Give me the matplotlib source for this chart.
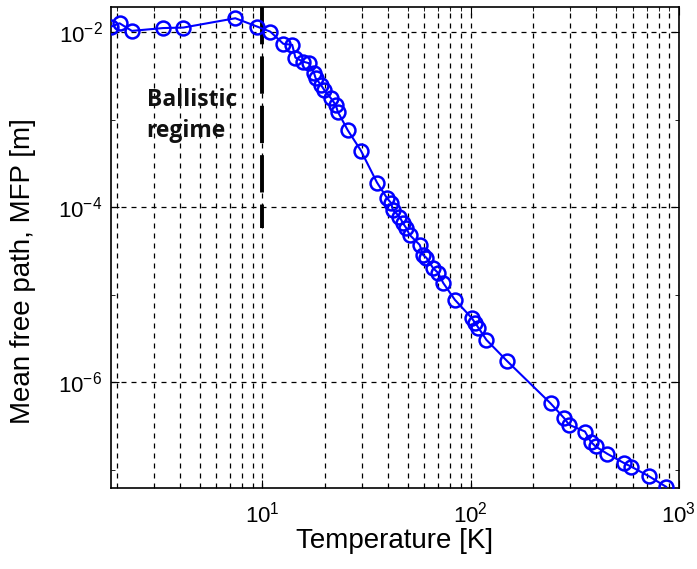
import numpy as np
import matplotlib
matplotlib.use("Agg")
import matplotlib.pyplot as plt
from matplotlib.ticker import LogLocator, NullFormatter, FixedLocator

plt.rcParams['font.family'] = ['Liberation Sans', 'DejaVu Sans']
plt.rcParams['mathtext.fontset'] = 'custom'
plt.rcParams['mathtext.rm'] = 'Liberation Sans'
plt.rcParams['mathtext.it'] = 'Liberation Sans'

# temperature [K] and mean free path [m]
temperature = [1.88, 2.06, 2.36, 3.33, 4.17, 7.41, 9.43, 10.9, 12.6, 13.9,
               14.4, 15.6, 16.7, 17.7, 18.0, 19.1, 19.8, 21.3, 22.5, 23.0,
               25.7, 29.7, 35.5, 39.7, 41.5, 42.3, 45.5, 47.3, 49.1, 50.9,
               56.9, 59.1, 61.3, 66.0, 69.8, 73.8, 84.0, 101, 105, 109,
               119, 150, 242, 281, 297, 354, 377, 398, 454, 547,
               589, 721, 868]
mfp = [1.165e-2, 1.27e-2, 1.04e-2, 1.12e-2, 1.135e-2, 1.45e-2, 1.165e-2, 1.02e-2, 7.4e-3, 7.2e-3,
       5.15e-3, 4.64e-3, 4.45e-3, 3.42e-3, 3.0e-3, 2.51e-3, 2.2e-3, 1.77e-3, 1.48e-3, 1.24e-3,
       7.6e-4, 4.46e-4, 1.92e-4, 1.27e-4, 1.12e-4, 9.36e-5, 7.85e-5, 6.6e-5, 5.78e-5, 4.85e-5,
       3.73e-5, 2.86e-5, 2.65e-5, 2.02e-5, 1.78e-5, 1.37e-5, 8.77e-6, 5.46e-6, 4.79e-6, 4.2e-6,
       3.06e-6, 1.74e-6, 5.75e-7, 3.9e-7, 3.27e-7, 2.74e-7, 2.1e-7, 1.85e-7, 1.52e-7, 1.19e-7,
       1.09e-7, 8.4e-8, 6.4e-8]

ballistic_T = 10
ballistic_range = [1.95e-2, 5.8e-5]

fig = plt.figure(figsize=(6.97, 5.69), dpi=100)
ax = fig.add_axes([0.159, 0.1424, 0.815, 0.8453])

ax.set_xscale('log')
ax.set_yscale('log')
ax.set_xlim(1.87, 1000)
ax.set_ylim(6.2e-8, 1.95e-2)

# grid: x major+minor, y only every other decade
ax.xaxis.set_major_locator(LogLocator(base=10))
ax.xaxis.set_minor_locator(LogLocator(base=10, subs=np.arange(2, 10)))
ax.xaxis.set_minor_formatter(NullFormatter())
ax.yaxis.set_major_locator(FixedLocator([1e-6, 1e-4, 1e-2]))
ax.yaxis.set_minor_locator(FixedLocator([1e-7, 1e-5, 1e-3]))
ax.yaxis.set_minor_formatter(NullFormatter())
ax.grid(True, which='major', axis='both', color='black', linestyle=(0, (4, 4)), linewidth=0.9)
ax.grid(True, which='minor', axis='x', color='black', linestyle=(0, (4, 4)), linewidth=0.9)

ax.plot(temperature, mfp, '-o', color='#0000ff', linewidth=1.5, markersize=10,
        markerfacecolor='none', markeredgewidth=1.8, zorder=3)

ax.plot([ballistic_T, ballistic_T], ballistic_range, color='black', linewidth=2.8,
        linestyle=(0, (9.6, 3.1)), zorder=2)

txt_font = ['Open Sans', 'DejaVu Sans']
ax.text(2.78, 1.445e-3, 'Ballistic', fontsize=16.5, fontweight='bold', family=txt_font,
        color='#111111', va='baseline', ha='left')
ax.text(2.78, 6.4e-4, 'regime', fontsize=16.5, fontweight='bold', family=txt_font,
        color='#111111', va='baseline', ha='left')

ax.tick_params(which='both', direction='in', top=True, right=True, labelsize=16)
ax.tick_params(axis='x', which='major', pad=10)
ax.tick_params(axis='y', which='major', pad=6)
ax.tick_params(which='major', length=6)
ax.tick_params(which='minor', length=3)
for s in ax.spines.values():
    s.set_linewidth(1.2)

ax.set_xlabel('Temperature [K]', fontsize=20, labelpad=0)
ax.set_ylabel('Mean free path, MFP [m]', fontsize=20)
ax.yaxis.set_label_coords(-0.132, 0.45)

fig.savefig('out.png', dpi=100)
